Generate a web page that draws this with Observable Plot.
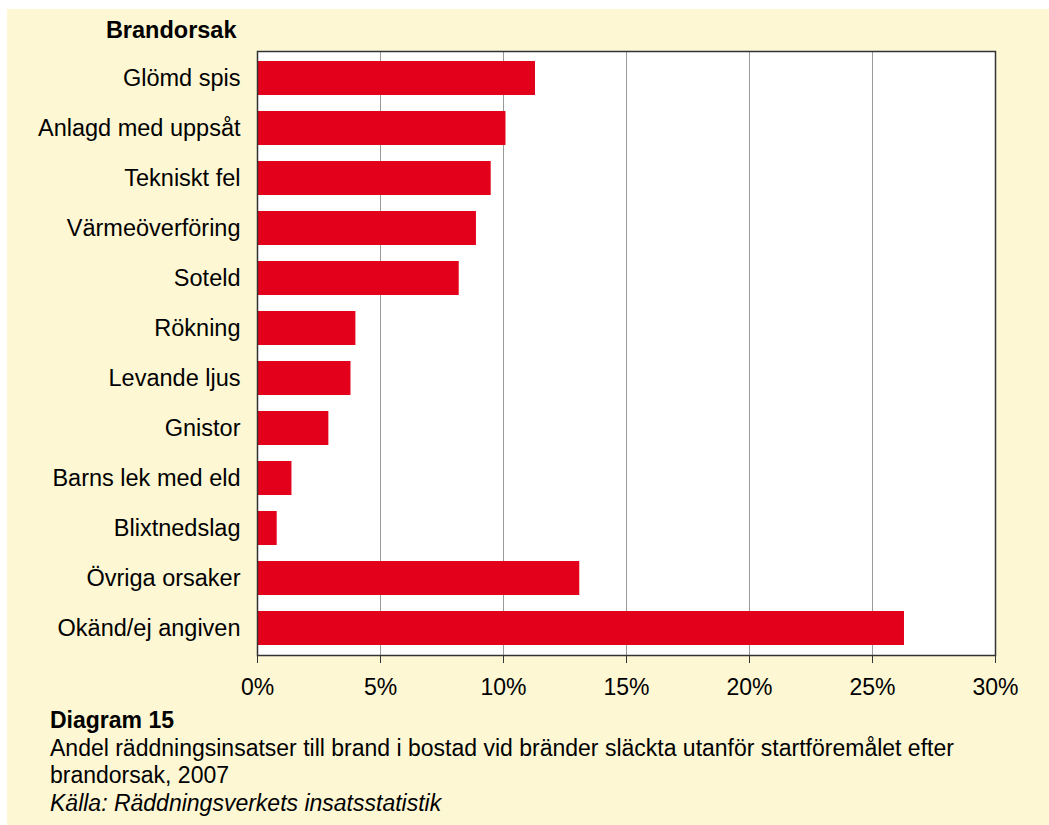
<!DOCTYPE html>
<html>
<head>
<meta charset="utf-8">
<script src="https://cdn.jsdelivr.net/npm/d3@7"></script>
<script src="https://cdn.jsdelivr.net/npm/@observablehq/plot@0.6"></script>
<style>
  html, body { margin: 0; padding: 0; background: #ffffff; }
  #panel {
    position: absolute; left: 7px; top: 9px; width: 1042px; height: 816px;
    background: #FDF7D3; font-family: "Liberation Sans", Arial, sans-serif; color: #000;
  }
  #chart svg { display: block; }
  #caption { padding-left: 43px; width: 950px; font-size: 23px; line-height: 27.5px; margin-top: -2px; }
  #caption .title { font-weight: bold; }
  #caption .source { font-style: italic; }
</style>
</head>
<body>
<div id="panel">
  <div id="chart"></div>
  <div id="caption">
    <div class="title">Diagram 15</div>
    <div>Andel räddningsinsatser till brand i bostad vid bränder släckta utanför startföremålet efter brandorsak, 2007</div>
    <div class="source">Källa: Räddningsverkets insatsstatistik</div>
  </div>
</div>
<script>
const causes = [
  "Glömd spis",
  "Anlagd med uppsåt",
  "Tekniskt fel",
  "Värmeöverföring",
  "Soteld",
  "Rökning",
  "Levande ljus",
  "Gnistor",
  "Barns lek med eld",
  "Blixtnedslag",
  "Övriga orsaker",
  "Okänd/ej angiven"
];
const shares = [11.3, 10.1, 9.5, 8.9, 8.2, 4.0, 3.8, 2.9, 1.4, 0.8, 13.1, 26.3];
const xTicks = [0, 5, 10, 15, 20, 25, 30];
const axisTitle = "Brandorsak";

const data = causes.map((c, i) => ({cause: c, value: shares[i]}));

const chart = Plot.plot({
  width: 1042,
  height: 700,
  marginLeft: 250,
  marginRight: 54,
  marginTop: 42,
  marginBottom: 54,
  style: {fontFamily: "'Liberation Sans', Arial, sans-serif", fontSize: "23px", color: "#000", background: "transparent", overflow: "visible"},
  x: {domain: [0, 30], ticks: xTicks, tickFormat: d => d + "%", label: null},
  y: {domain: causes, paddingInner: 0.32, paddingOuter: 0.16, label: null},
  marks: [
    Plot.frame({fill: "#ffffff", stroke: null}),
    Plot.gridX(xTicks.slice(1, -1), {stroke: "#999999", strokeOpacity: 1, strokeWidth: 1}),
    Plot.barX(data, {x: "value", y: "cause", fill: "#E2001A"}),
    Plot.frame({stroke: "#333333", strokeWidth: 1.5}),
    Plot.axisX({ticks: xTicks, tickFormat: d => d + "%", tickSize: 8, tickPadding: 15, stroke: "#333333", fontSize: 23, fill: "#000"}),
    Plot.axisY({tickSize: 0, tickPadding: 17, fontSize: 23.5, fill: "#000"}),
    Plot.text([axisTitle], {frameAnchor: "top-left", dx: -21, dy: -14, textAnchor: "end", lineAnchor: "bottom", fontWeight: "bold", fontSize: 23.5, fill: "#000"})
  ]
});
document.getElementById("chart").appendChild(chart);
</script>
</body>
</html>
